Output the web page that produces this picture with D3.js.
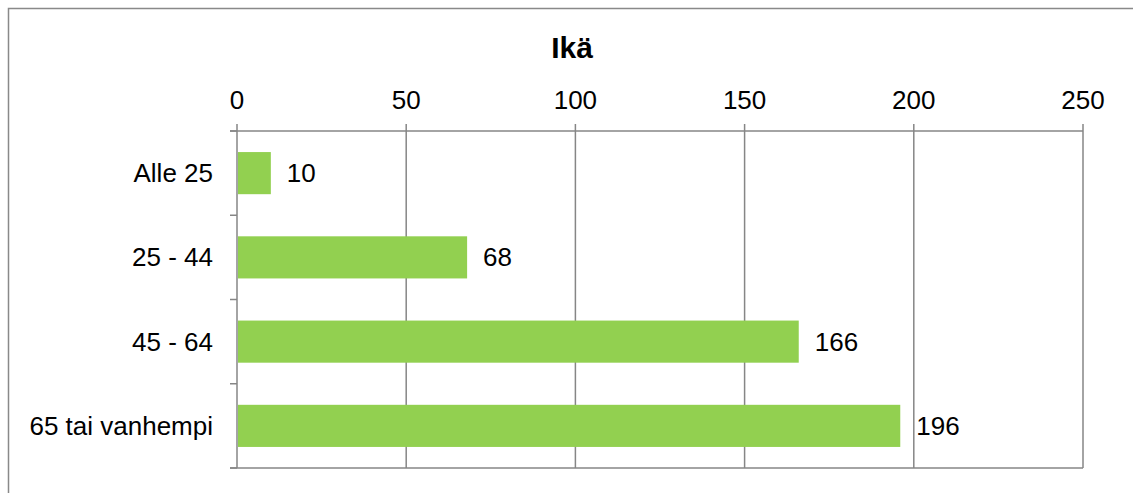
<!DOCTYPE html>
<html>
<head>
<meta charset="utf-8">
<script src="https://cdn.jsdelivr.net/npm/d3@7"></script>
<style>
  body { margin: 0; background: #fff; overflow: hidden; }
  text { font-family: "Liberation Sans", Arial, sans-serif; fill: #000; }
</style>
</head>
<body>
<svg id="chart" width="1133" height="493"></svg>
<script>
// age groups and counts
const categories = ['Alle 25', '25 - 44', '45 - 64', '65 tai vanhempi'];
const values = [10, 68, 166, 196];
const tickValues = [0, 50, 100, 150, 200, 250];
const title = 'Ikä';

const svg = d3.select('#chart');
const margin = { top: 131, right: 50, bottom: 25, left: 237 };
const gridColor = '#868686';

// outer frame (right/bottom run past the picture)
svg.append('rect')
  .attr('x', 8.5).attr('y', 8.5)
  .attr('width', 1200).attr('height', 520)
  .attr('fill', 'none').attr('stroke', '#898989').attr('stroke-width', 1.5);

svg.append('text')
  .attr('x', 572).attr('y', 58)
  .attr('text-anchor', 'middle')
  .style('font-size', '30px').style('font-weight', 'bold')
  .text(title);

const x = d3.scaleLinear().domain([0, 250]).range([margin.left, 1083]);
const y = d3.scaleBand().domain(categories).range([margin.top, 468])
  .paddingInner(0.5).paddingOuter(0.25);

const g = svg.append('g');

// vertical gridlines with ticks above the plot
g.selectAll('.grid')
  .data(tickValues)
  .enter().append('line')
  .attr('x1', d => x(d)).attr('x2', d => x(d))
  .attr('y1', margin.top - 7).attr('y2', 468)
  .attr('stroke', gridColor).attr('stroke-width', 1.5);

// top axis line and bottom line
[margin.top, 468].forEach(yy => {
  g.append('line')
    .attr('x1', margin.left - 7).attr('x2', x(250))
    .attr('y1', yy).attr('y2', yy)
    .attr('stroke', gridColor).attr('stroke-width', 1.5);
});

// category tick marks on the left
const bounds = d3.range(categories.length + 1).map(i => margin.top + i * (468 - margin.top) / categories.length);
g.selectAll('.ytick')
  .data(bounds)
  .enter().append('line')
  .attr('x1', margin.left - 7).attr('x2', margin.left)
  .attr('y1', d => d).attr('y2', d => d)
  .attr('stroke', gridColor).attr('stroke-width', 1.5);

// tick labels on top
g.selectAll('.xlab')
  .data(tickValues)
  .enter().append('text')
  .attr('x', d => x(d)).attr('y', 109)
  .attr('text-anchor', 'middle')
  .style('font-size', '26px')
  .text(d => d);

// bars
g.selectAll('.bar')
  .data(values)
  .enter().append('rect')
  .attr('x', x(0) + 1)
  .attr('y', (d, i) => y(categories[i]))
  .attr('width', d => x(d) - x(0) - 1)
  .attr('height', y.bandwidth())
  .attr('fill', '#92d050');

// value labels
g.selectAll('.val')
  .data(values)
  .enter().append('text')
  .attr('x', d => x(d) + 16)
  .attr('y', (d, i) => y(categories[i]) + y.bandwidth() / 2)
  .attr('dy', '0.35em')
  .style('font-size', '26px')
  .text(d => d);

// category labels
g.selectAll('.cat')
  .data(categories)
  .enter().append('text')
  .attr('x', margin.left - 24)
  .attr('y', d => y(d) + y.bandwidth() / 2)
  .attr('dy', '0.35em')
  .attr('text-anchor', 'end')
  .style('font-size', '26px')
  .text(d => d);
</script>
</body>
</html>
